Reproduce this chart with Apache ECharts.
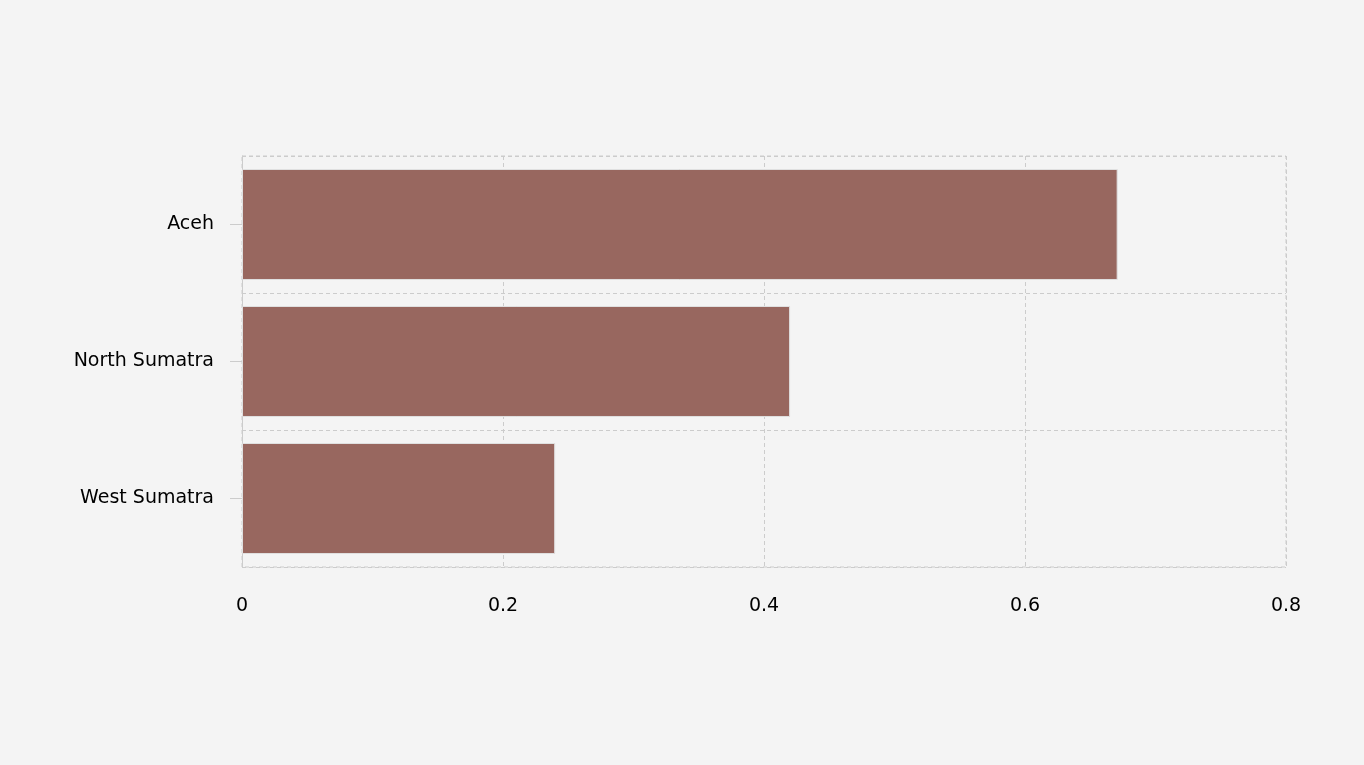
<!DOCTYPE html>
<html>
<head>
<meta charset="utf-8">
<script src="https://cdn.jsdelivr.net/npm/echarts@6/dist/echarts.min.js"></script>
<style>html,body{margin:0;background:#f4f4f4}#c{width:1364px;height:765px}</style>
</head>
<body>
<div id="c"></div>
<script>
// 数据
const categories = ['West Sumatra', 'North Sumatra', 'Aceh']
const values = [0.24, 0.42, 0.671]
const xTicks = [0, 0.2, 0.4, 0.6, 0.8]

const myChart = echarts.init(document.getElementById('c'))
const dashed = { color: '#cccccc', type: [4, 3], width: 1 }
myChart.setOption({
    backgroundColor: '#f4f4f4',
    textStyle: { fontFamily: 'DejaVu Sans' },
    grid: { left: 242, right: 78, top: 156, bottom: 198, show: true, borderColor: '#cccccc', borderWidth: 1, borderType: [4, 3] },
    xAxis: {
        type: 'value', min: xTicks[0], max: xTicks[xTicks.length - 1], interval: 0.2,
        axisLine: { show: false }, axisTick: { show: false },
        splitLine: { show: true, lineStyle: dashed },
        axisLabel: { color: '#000', fontSize: 19, margin: 30, formatter: v => v === 0 ? '0' : String(v) }
    },
    yAxis: {
        type: 'category', data: categories,
        axisLine: { show: true, lineStyle: { color: '#cccccc' } },
        axisTick: { show: true, length: 12, alignWithLabel: true, lineStyle: { color: '#cccccc' } },
        splitLine: { show: true, lineStyle: dashed },
        axisLabel: { color: '#000', fontSize: 19, margin: 28 }
    },
    series: [{
        type: 'bar', data: values, barCategoryGap: '19%',
        itemStyle: { color: '#98675f', borderColor: '#e0e0e0', borderWidth: 1 }
    }]
})
</script>
</body>
</html>
